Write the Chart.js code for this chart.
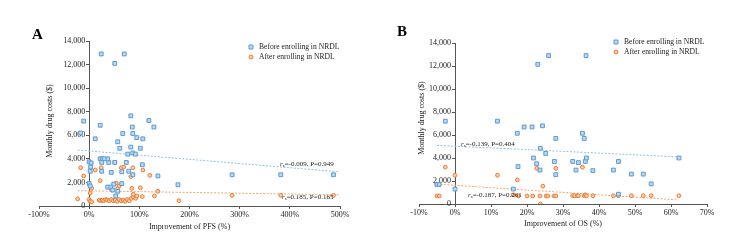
<!DOCTYPE html>
<html>
<head>
<meta charset="utf-8">
<script src="https://cdn.jsdelivr.net/npm/chart.js@4.4.1/dist/chart.umd.min.js"></script>
<style>
  html, body { margin: 0; padding: 0; background: #fff; }
  #wrap { position: relative; width: 750px; height: 240px; }
  .panel { position: absolute; top: 0; width: 375px; height: 240px; }
</style>
</head>
<body>
<div id="wrap">
  <div class="panel" style="left:0"><canvas id="chartA" width="375" height="240"></canvas></div>
  <div class="panel" style="left:375px"><canvas id="chartB" width="375" height="240"></canvas></div>
</div>
<script>
// Panel A: improvement of PFS (%) vs monthly drug costs ($)
const pfsBeforeX = [24, 70, 51, -11, -17, 22, 12, 57, 61, 67, 83, 86, 87, 95, 83, 87, 92, 102, 107, 119, 129, 137, 106, 177, 87, 79, 74, 65, 51, 44, 39, 37, 22, 26, 30, 25, 25, 0, 4, 3, 2, 0, 2, 37, 43, 49, 53, 57, 65, 77, 47, 285, 382, 487];
const pfsBeforeY = [12900, 12900, 12100, 7200, 6200, 6850, 5700, 5450, 4900, 6150, 7650, 6700, 6150, 5800, 5000, 4500, 4400, 4900, 5700, 7250, 6700, 2550, 3500, 1800, 2650, 2950, 3700, 2900, 3700, 2850, 3700, 4000, 4000, 4000, 4000, 3700, 2950, 3750, 3650, 3300, 2950, 1900, 1700, 1600, 1600, 1850, 850, 1250, 1900, 4400, 1350, 2650, 2650, 2650];
const pfsAfterX = [-23, -17, -11, 2, 5, 0, 2, 5, 22, 24, 12, 20, 23, 26, 29, 33, 36, 40, 44, 48, 52, 56, 60, 64, 68, 72, 76, 80, 84, 88, 93, 51, 64, 69, 83, 87, 107, 121, 57, 60, 44, 85, 102, 137, 130, 106, 95, 179, 88, 54, 285, 382, 487];
const pfsAfterY = [600, 3250, 2550, 1100, 1500, 550, 400, 350, 2150, 3250, 3050, 500, 450, 500, 450, 550, 500, 450, 550, 450, 500, 400, 550, 450, 500, 400, 550, 450, 650, 750, 650, 3700, 3250, 3300, 2500, 3250, 3050, 2600, 1500, 1700, 1450, 1500, 1550, 1250, 850, 800, 850, 450, 1000, 1950, 900, 900, 900];
const pfsTrendX = [-23, 498];
const pfsBeforeTrendY = [4750, 2900];
const pfsAfterTrendY = [1300, 950];

// Panel B: improvement of OS (%) vs monthly drug costs ($)
const osBeforeX = [-5, -4.4, -2.7, 0, 11.8, 16.2, 17.3, 17.5, 19.2, 21.4, 21.8, 22.7, 23, 23.6, 23.7, 24.3, 25.2, 26, 27.6, 28, 28, 32.7, 33.6, 34.3, 35.4, 35.9, 36.2, 36.4, 36.5, 38.3, 44, 45.4, 45.4, 49, 52.3, 54.5, 62.2];
const osBeforeY = [1700, 1700, 7200, 1300, 7200, 1300, 6150, 3250, 6700, 6700, 4000, 3500, 12150, 2950, 4850, 6800, 4400, 12900, 3700, 5700, 2550, 3700, 2950, 3600, 6150, 5700, 3700, 12900, 4000, 2900, 2950, 3700, 850, 2600, 2600, 1750, 4000];
const osAfterX = [-5, -4.4, -2.7, 0, 11.8, 16.2, 17.3, 17.6, 20, 21.6, 22.7, 23.6, 23.7, 24.4, 25.3, 25.8, 27.5, 28, 28, 32.7, 33.2, 34, 34.3, 35.4, 35.9, 36.2, 36.5, 38.3, 44, 45.4, 49, 52.3, 54.5, 62.2];
const osAfterY = [700, 700, 3200, 2500, 2500, 800, 2100, 700, 700, 700, 3100, 700, 0, 1550, 700, 700, 700, 700, 3100, 720, 720, 720, 720, 3200, 720, 800, 720, 720, 720, 720, 720, 720, 720, 720];
const osBeforeTrendX = [-5, 62];
const osBeforeTrendY = [5100, 4100];
const osAfterTrendX = [-6, 62];
const osAfterTrendY = [1750, 350];

const costTicks = [0, 2000, 4000, 6000, 8000, 10000, 12000, 14000];

const blueBorder = "#5b9bd5", blueFill = "#bdd7ee", blueLine = "#8fc1e6";
const orangeBorder = "#ed7d31", orangeFill = "#f8cbad", orangeLine = "#f2a46e";
const serif = "'Liberation Serif', 'Times New Roman', serif";

function toPoints(xs, ys) {
  return xs.map((x, i) => ({ x: x, y: ys[i] }));
}

// letters, y titles, legend and correlation notes
const extraText = {
  id: "extraText",
  afterDraw(chart, args, o) {
    const ctx = chart.ctx;
    ctx.save();
    ctx.fillStyle = "#000";
    ctx.font = "bold 15px " + serif;
    ctx.textBaseline = "alphabetic";
    ctx.fillText(o.letter, o.letterX, o.letterY);

    ctx.save();
    ctx.translate(o.yTitleX, o.yTitleY);
    ctx.rotate(-Math.PI / 2);
    ctx.font = "8px " + serif;
    ctx.textAlign = "center";
    ctx.textBaseline = "middle";
    ctx.fillStyle = "#222";
    ctx.fillText("Monthly drug costs ($)", 0, 0);
    ctx.restore();

    // legend
    const sets = chart.data.datasets.filter(d => d.legend);
    sets.forEach((d, i) => {
      const y = o.legendY + i * 10;
      ctx.fillStyle = d.backgroundColor;
      ctx.strokeStyle = d.borderColor;
      ctx.lineWidth = 1;
      ctx.beginPath();
      if (d.pointStyle === "rect") ctx.rect(o.legendX - 2, y - 2, 4, 4);
      else ctx.arc(o.legendX, y, 2, 0, Math.PI * 2);
      ctx.fill();
      ctx.stroke();
      ctx.fillStyle = "#222";
      ctx.font = "7.6px " + serif;
      ctx.textAlign = "left";
      ctx.textBaseline = "middle";
      ctx.fillText(d.label, o.legendX + 8, y);
    });

    // r_s notes
    o.notes.forEach(n => {
      let x = n.x;
      ctx.fillStyle = "#222";
      ctx.textBaseline = "middle";
      ctx.textAlign = "left";
      ctx.font = "italic 7px " + serif;
      ctx.fillText("r", x, n.y);
      x += ctx.measureText("r").width;
      ctx.font = "5px " + serif;
      ctx.fillText("s", x, n.y + 2);
      x += ctx.measureText("s").width;
      ctx.font = "7px " + serif;
      ctx.fillText(n.text, x, n.y);
    });
    ctx.restore();
  }
};

function makeChart(id, cfg) {
  const tickFont = { family: serif, size: 8 };
  return new Chart(document.getElementById(id), {
    type: "scatter",
    data: {
      datasets: [
        {
          label: "Before enrolling in NRDL", legend: true,
          data: toPoints(cfg.beforeX, cfg.beforeY),
          pointStyle: "rect", pointRadius: 2.7, borderWidth: 1,
          borderColor: blueBorder, backgroundColor: blueFill
        },
        {
          label: "After enrolling in NRDL", legend: true,
          data: toPoints(cfg.afterX, cfg.afterY),
          pointStyle: "circle", pointRadius: 1.9, borderWidth: 1,
          borderColor: orangeBorder, backgroundColor: orangeFill
        },
        {
          label: "before trend", data: toPoints(cfg.bTrendX, cfg.bTrendY),
          showLine: true, pointRadius: 0, borderWidth: 1, borderDash: [2, 1.5],
          borderColor: blueLine
        },
        {
          label: "after trend", data: toPoints(cfg.aTrendX, cfg.aTrendY),
          showLine: true, pointRadius: 0, borderWidth: 1, borderDash: [2, 1.5],
          borderColor: orangeLine
        }
      ]
    },
    options: {
      responsive: false,
      animation: false,
      devicePixelRatio: 1,
      layout: { padding: cfg.padding },
      scales: {
        x: {
          type: "linear", position: "bottom",
          min: cfg.xMin, max: cfg.xMax,
          afterBuildTicks: s => { s.ticks = cfg.xTicks.map(v => ({ value: v })); },
          afterFit: s => { s.height = cfg.xHeight; },
          ticks: { font: tickFont, color: "#222", padding: 1, maxRotation: 0, callback: v => v + "%" },
          grid: { drawOnChartArea: false, drawTicks: true, tickLength: 3, color: "#555" },
          border: { color: "#555" },
          title: { display: true, text: cfg.xTitle, font: tickFont, color: "#222", padding: { top: 0, bottom: cfg.xTitlePad } }
        },
        y: {
          type: "linear", position: { x: 0 },
          min: 0, max: 14000,
          afterBuildTicks: s => { s.ticks = costTicks.map(v => ({ value: v })); },
          // axis sits at x = 0, so leave room for the tick marks
          ticks: { font: tickFont, color: "#222", callback: v => v.toLocaleString("en-US") + "  " },
          grid: { drawOnChartArea: false, drawTicks: true, tickLength: 3, color: "#555" },
          border: { color: "#555" }
        }
      },
      plugins: {
        legend: { display: false },
        tooltip: { enabled: false },
        extraText: cfg.extra
      }
    },
    plugins: [extraText]
  });
}

makeChart("chartA", {
  beforeX: pfsBeforeX, beforeY: pfsBeforeY, afterX: pfsAfterX, afterY: pfsAfterY,
  bTrendX: pfsTrendX, bTrendY: pfsBeforeTrendY, aTrendX: pfsTrendX, aTrendY: pfsAfterTrendY,
  xMin: -100, xMax: 500, xTicks: [-100, 0, 100, 200, 300, 400, 500],
  xTitle: "Improvement of PFS (%)", xTitlePad: 8, xHeight: 34,
  padding: { left: 39, right: 35, top: 41, bottom: 0 },
  extra: {
    letter: "A", letterX: 32, letterY: 39, yTitleX: 50, yTitleY: 121,
    legendX: 251, legendY: 47,
    notes: [
      { x: 280, y: 164, text: "=-0.009, P=0.949" },
      { x: 282, y: 197, text: "=0.185, P=0.165" }
    ]
  }
});

makeChart("chartB", {
  beforeX: osBeforeX, beforeY: osBeforeY, afterX: osAfterX, afterY: osAfterY,
  bTrendX: osBeforeTrendX, bTrendY: osBeforeTrendY, aTrendX: osAfterTrendX, aTrendY: osAfterTrendY,
  xMin: -10, xMax: 70, xTicks: [-10, 0, 10, 20, 30, 40, 50, 60, 70],
  xTitle: "Improvement of OS (%)", xTitlePad: 11, xHeight: 36,
  padding: { left: 44, right: 43, top: 43, bottom: 0 },
  extra: {
    letter: "B", letterX: 22, letterY: 36, yTitleX: 47, yTitleY: 118,
    legendX: 241, legendY: 42,
    notes: [
      { x: 86, y: 144, text: "=-0.139, P=0.404" },
      { x: 93, y: 195, text: "=-0.187, P=0.261" }
    ]
  }
});
</script>
</body>
</html>
